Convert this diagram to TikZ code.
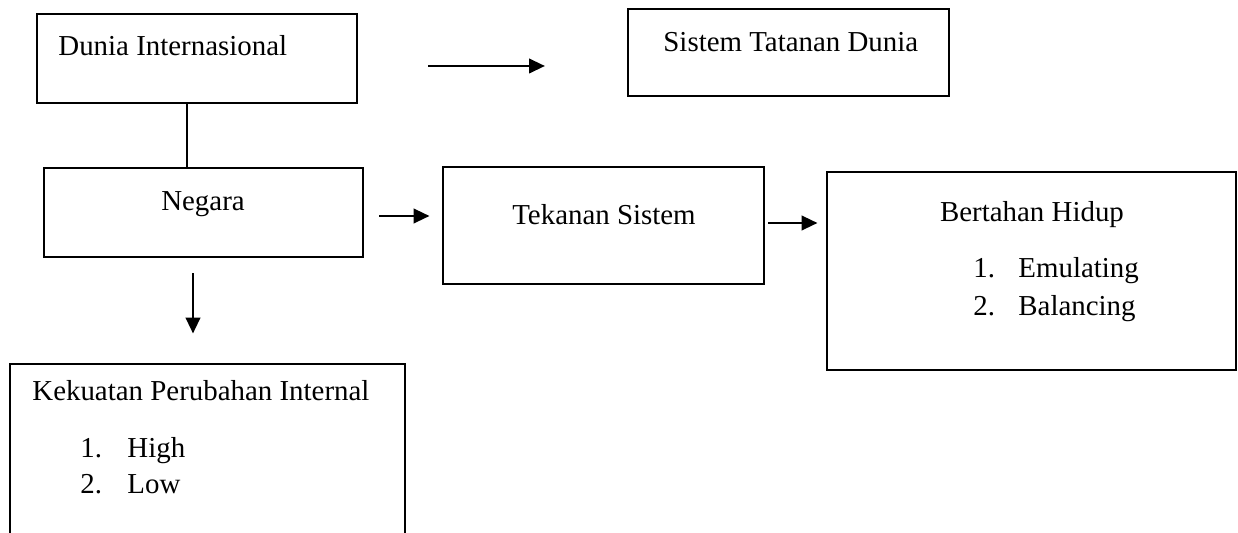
\documentclass[tikz,border=0pt]{standalone}
\usepackage{fontspec}
\setmainfont{Liberation Serif}
\usetikzlibrary{arrows.meta}
\tikzset{
  bagan box/.style={
    draw,
    line width=1.45pt,
    inner sep=0pt
  },
  bagan text/.style={
    anchor=base west,
    inner sep=0pt,
    font=\fontsize{14.45pt}{17pt}\selectfont
  },
  bagan arr/.style={-{Triangle[length=8pt,width=7.2pt]}, line width=1.4pt}
}

\begin{document}
\begin{tikzpicture}[x=0.5pt, y=-0.5pt]
  \useasboundingbox (0,0) rectangle (1238,533);
  \fill[white] (0,0) rectangle (1238,533);

  % kotak-kotak
  \node[bagan box, minimum width=160pt, minimum height=44.5pt] (dunia) at (197,58.5) {};
  \node[bagan box, minimum width=160.5pt, minimum height=43.5pt] (sistem) at (788.5,52.5) {};
  \node[bagan box, minimum width=159.5pt, minimum height=44.5pt] (negara) at (203.5,212.5) {};
  \node[bagan box, minimum width=160.5pt, minimum height=58.5pt] (tekanan) at (603.5,225.5) {};
  \node[bagan box, minimum width=204.5pt, minimum height=99pt] (bertahan) at (1031.5,271) {};
  \node[bagan box, minimum width=197.5pt, minimum height=98pt] (kekuatan) at (207.5,462) {};

  % teks
  \node[bagan text] (duniatxt) at (58,56) {Dunia Internasional};
  \node[bagan text] (sistemtxt) at (663,52) {Sistem Tatanan Dunia};
  \node[bagan text, anchor=base] (negaratxt) at (203,211) {Negara};
  \node[bagan text, anchor=base] (tekanantxt) at (604,225) {Tekanan Sistem};

  \node[bagan text, anchor=base] (bertahantxt) at (1032,222) {Bertahan Hidup};
  \node[bagan text] (emunum) at (973,278) {1.};
  \node[bagan text] (emutxt) at (1018,278) {Emulating};
  \node[bagan text] (balnum) at (973,316) {2.};
  \node[bagan text] (baltxt) at (1018,316) {Balancing};

  \node[bagan text] (kekuatantxt) at (32,401) {Kekuatan Perubahan Internal};
  \node[bagan text] (highnum) at (80,458) {1.};
  \node[bagan text] (hightxt) at (127,458) {High};
  \node[bagan text] (lownum) at (80,494) {2.};
  \node[bagan text] (lowtxt) at (127,494) {Low};

  % penghubung
  \draw[line width=1.45pt] (dunia.south -| 187,0) -- (negara.north -| 187,0);
  \coordinate (panahA) at (428,66);
  \coordinate (panahB) at (545,66);
  \draw[bagan arr] (panahA) -- (panahB);
  \draw[bagan arr, shorten <=7.5pt, shorten >=6pt]
    (negara.east |- 0,216) -- (tekanan.west |- 0,216);
  \draw[bagan arr, shorten <=1.5pt, shorten >=4pt]
    (tekanan.east |- 0,223) -- (bertahan.west |- 0,223);
  \draw[bagan arr, shorten <=7.5pt, shorten >=14.5pt]
    (negara.south -| 193,0) -- (kekuatan.north -| 193,0);
\end{tikzpicture}
\end{document}
